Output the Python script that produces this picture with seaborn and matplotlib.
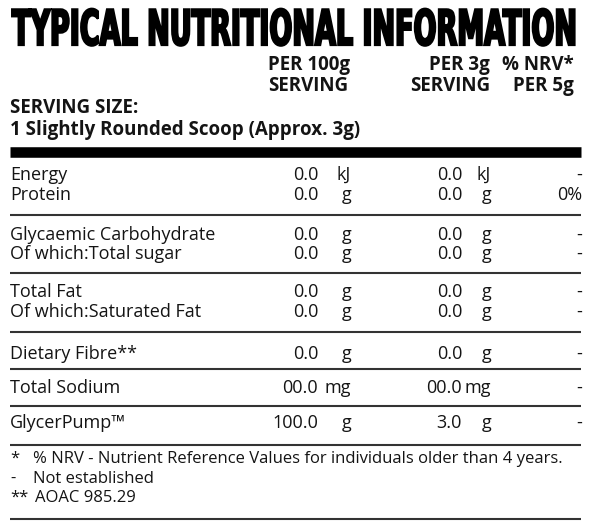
import numpy as np
import matplotlib
matplotlib.use("Agg")
import matplotlib.pyplot as plt
import matplotlib.patheffects as pe
from matplotlib.transforms import Affine2D
import seaborn as sns

TITLE = "TYPICAL NUTRITIONAL INFORMATION"
HEAD_100 = ["PER 100g", "SERVING"]
HEAD_3 = ["PER 3g", "SERVING"]
HEAD_NRV = ["% NRV*", "PER 5g"]
SERVING = ["SERVING SIZE:", "1 Slightly Rounded Scoop (Approx. 3g)"]

NUTRIENTS = ["Energy", "Protein", "Glycaemic Carbohydrate", "Of which:Total sugar",
             "Total Fat", "Of which:Saturated Fat", "Dietary Fibre**",
             "Total Sodium", "GlycerPump\u2122"]
PER_100 = ["0.0", "0.0", "0.0", "0.0", "0.0", "0.0", "0.0", "00.0", "100.0"]
PER_3 = ["0.0", "0.0", "0.0", "0.0", "0.0", "0.0", "0.0", "00.0", "3.0"]
UNITS = ["kJ", "g", "g", "g", "g", "g", "g", "mg", "g"]
NRV = ["-", "0%", "-", "-", "-", "-", "-", "-", "-"]

NOTE_MARKS = ["*", "-", "**"]
NOTES = ["% NRV - Nutrient Reference Values for individuals older than 4 years.",
         "Not established", "AOAC 985.29"]

# layout (pixel coords, y down)
W, H = 600, 527
X0, X1 = 10, 581
ROW_BASE = [180, 200, 240, 259, 297, 317, 359, 393, 428]
SEP_Y = [215, 273, 332, 369, 406, 445, 519]
NOTE_BASE = [463, 483, 502]
INK = "#141414"
BODY = ["Open Sans", "DejaVu Sans"]


class Squash(pe.AbstractPathEffect):
    """stretch glyphs vertically and thicken them (poster-style heading)"""

    def __init__(self, sy, lw):
        super().__init__()
        self.sy = sy
        self.lw = lw

    def draw_path(self, renderer, gc, tpath, affine, rgbFace=None):
        aff = Affine2D().scale(1, self.sy) + affine
        gc0 = renderer.new_gc()
        gc0.copy_properties(gc)
        gc0.set_linewidth(self.lw)
        gc0.set_foreground(rgbFace)
        gc0.set_joinstyle("miter")
        renderer.draw_path(gc0, tpath, aff, rgbFace)
        gc0.restore()


def main():
    sns.set_theme(style="white")
    plt.rcParams["font.family"] = BODY

    fig = plt.figure(figsize=(W / 100, H / 100), dpi=100)
    ax = fig.add_axes([0, 0, 1, 1])
    ax.set_xlim(0, W)
    ax.set_ylim(H, 0)
    ax.axis("off")

    # title: fit to width, then stretch to cap height
    title = ax.text(X0 + 2, 45, TITLE, ha="left", va="baseline", color="black",
                    family=["Liberation Sans Narrow", "DejaVu Sans"],
                    fontweight="bold", fontsize=30)
    fig.canvas.draw()
    wpx = title.get_window_extent().width
    fs = 30 * (X1 - X0 - 5) / wpx
    title.set_fontsize(fs)
    cap_px = 0.716 * fs * 100 / 72
    title.set_path_effects([Squash(35 / cap_px, 1.6)])

    bold = dict(fontweight="bold", fontsize=13.5, color=INK, va="baseline")
    for i, yb in enumerate([70, 91]):
        ax.text(268, yb, HEAD_100[i], ha="left", **bold)
        ax.text(490, yb, HEAD_3[i], ha="right", **bold)
        ax.text(574, yb, HEAD_NRV[i], ha="right", **bold)
    ax.text(X0, 113, SERVING[0], ha="left", **bold)
    ax.text(X0, 135, SERVING[1], ha="left", **bold)

    ax.hlines(152, X0, X1, color="black", lw=7.6, capstyle="butt")
    ax.hlines(SEP_Y, X0, X1, color="#333333", lw=1.5, capstyle="butt")

    reg = dict(fontsize=13, color=INK, va="baseline")
    for i, yb in enumerate(ROW_BASE):
        ax.text(X0, yb, NUTRIENTS[i], ha="left", **reg)
        ax.text(318, yb, PER_100[i], ha="right", **reg)
        ax.text(351, yb, UNITS[i], ha="right", **reg)
        ax.text(462, yb, PER_3[i], ha="right", **reg)
        ax.text(491, yb, UNITS[i], ha="right", **reg)
        ax.text(582, yb, NRV[i], ha="right", **reg)

    note = dict(reg, fontsize=12)
    for i, yb in enumerate(NOTE_BASE):
        ax.text(X0, yb, NOTE_MARKS[i], ha="left", **note)
        ax.text(33 if i < 2 else 35, yb, NOTES[i], ha="left", **note)

    fig.savefig("out.png", dpi=100, facecolor="white")
    plt.close(fig)


if __name__ == "__main__":
    main()
